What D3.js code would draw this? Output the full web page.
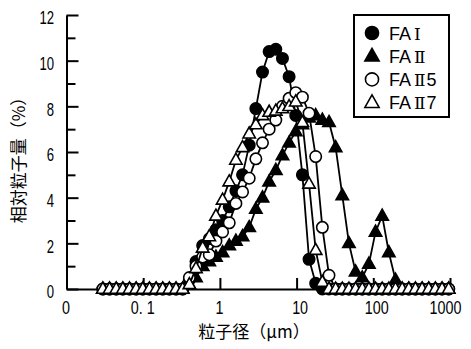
<!DOCTYPE html>
<html><head><meta charset="utf-8">
<script src="https://cdn.jsdelivr.net/npm/d3@7"></script>
<style>
body{margin:0;background:#fff;}
svg{display:block;}
</style></head><body>
<svg id="chart" width="471" height="349"></svg>
<script>
// Particle size channels (µm), log spaced
const sizes = [0.0298,0.0364,0.0445,0.0543,0.0663,0.0809,0.0988,0.1206,0.1473,0.1798,
  0.2196,0.268,0.327,0.400,0.488,0.596,0.727,0.888,1.084,1.324,
  1.617,1.974,2.410,2.943,3.593,4.386,5.356,6.539,7.984,9.748,
  11.90,14.53,17.74,21.66,26.45,32.29,39.43,48.14,58.78,71.77,
  87.62,107.0,130.6,159.5,194.7,237.8,290.3,354.4,432.8,528.4,
  645.1,787.7,961.6];

// Relative amount of particles (%) per channel
const faI = [0,0,0,0,0,0,0,0,0,0,0,0,0,
  0.4,1.2,1.9,2.2,2.6,3.0,3.6,4.3,5.0,6.3,7.9,9.5,10.4,10.5,10.1,9.3,7.6,5.0,1.3,0.25,
  0,0,0,0,0,0,0,0,0,0,0,0,0,0,0,0,0,0,0,0];
const faII = [0,0,0,0,0,0,0,0,0,0,0,0,0,
  0.2,0.5,1.0,1.2,1.4,1.6,1.9,2.1,2.3,2.7,3.5,4.0,4.7,5.2,5.85,6.4,6.9,7.2,7.5,7.6,7.4,7.3,
  6.2,4.1,2.0,0.76,0.5,1.1,2.5,3.2,1.6,0.4,
  0,0,0,0,0,0,0,0];
const faII5 = [0,0,0,0,0,0,0,0,0,0,0,0,0,
  0.5,1.0,1.4,1.5,2.1,2.5,2.9,3.75,4.25,4.85,5.7,6.4,7.0,7.4,8.0,8.35,8.6,8.4,7.7,5.8,2.7,0.6,
  0,0,0,0,0,0,0,0,0,0,0,0,0,0,0,0,0,0];
const faII7 = [0,0,0,0,0,0,0,0,0,0,0,0,0,
  0.2,0.9,1.8,2.3,3.2,3.9,4.7,5.65,6.2,6.8,7.2,7.6,7.75,7.8,7.9,8.0,8.2,7.3,4.6,1.7,0.3,
  0,0,0,0,0,0,0,0,0,0,0,0,0,0,0,0,0,0,0];

// legend names: prefix, roman numeral, suffix
const seriesPrefix = ["FA", "FA", "FA", "FA"];
const seriesNumeral = ["Ⅰ", "Ⅱ", "Ⅱ", "Ⅱ"];
const seriesSuffix = ["", "", "5", "7"];
const seriesValues = [faI, faII, faII5, faII7];
const seriesMarkers = ["circle", "triangle", "circle", "triangle"];
const seriesFilled = [true, true, false, false];

const xTicks = [0.01, 0.1, 1, 10, 100, 1000];
const xTickLabels = ["0", "0. 1", "1", "10", "100", "1000"];
const yMajor = [0, 2, 4, 6, 8, 10, 12];
const yMinor = [1, 3, 5, 7, 9, 11];

const svg = d3.select("#chart");
const x = d3.scaleLog().domain([0.01, 1000]).range([66.5, 450]);
const y = d3.scaleLinear().domain([0, 12]).range([289, 15]);

const numFont = "'Liberation Sans', Arial, sans-serif";
const jpFont = "'Noto Sans CJK JP', sans-serif";
const romanFont = "'DejaVu Serif', 'Noto Sans CJK JP', serif";

// marker shapes
function drawMarker(g, type, filled, k) {
  k = k || 1;
  if (type === "circle") {
    g.append("circle").attr("r", 5.7 * k);
  } else {
    g.append("path").attr("d", `M0,${-6.8 * k}L${6.2 * k},${4.2 * k}L${-6.2 * k},${4.2 * k}Z`);
  }
  g.selectAll("circle,path")
    .attr("fill", filled ? "#000" : "#fff")
    .attr("stroke", "#000")
    .attr("stroke-width", 1.6);
}

// axes
const yAxisMajor = d3.axisLeft(y).tickValues(yMajor).tickSize(-12).tickSizeOuter(0)
  .tickFormat(d3.format("d"));
const yAxisMinor = d3.axisLeft(y).tickValues(yMinor).tickSize(-9).tickSizeOuter(0)
  .tickFormat("");
const xAxis = d3.axisBottom(x).tickValues(xTicks).tickSize(-11).tickSizeOuter(0)
  .tickFormat((d, i) => xTickLabels[i]);

const gyMinor = svg.append("g").attr("transform", "translate(66.5,0)").call(yAxisMinor);
const gy = svg.append("g").attr("transform", "translate(66.5,0)").call(yAxisMajor);
const gx = svg.append("g").attr("transform", "translate(0,289)").call(xAxis);

svg.selectAll(".domain").attr("stroke", "#000").attr("stroke-width", 2);
svg.selectAll(".tick line").attr("stroke", "#000").attr("stroke-width", 2);
gyMinor.select(".domain").remove();

gy.selectAll(".tick text")
  .attr("font-family", numFont).attr("font-size", 17.5).attr("fill", "#000")
  .attr("x", 0).attr("dy", "0.42em")
  .attr("transform", "translate(-12.5,1.5) scale(0.75,1)");
gx.selectAll(".tick text")
  .attr("font-family", numFont).attr("font-size", 17.5).attr("fill", "#000")
  .attr("y", 0).attr("dy", 0)
  .attr("xml:space", "preserve")
  .attr("transform", (d, i) => `translate(${i === xTicks.length - 1 ? -5 : (i >= 3 ? 3 : -1)},24.5) scale(0.82,1)`);

// series: line then markers
const line = d3.line().x((d, i) => x(sizes[i])).y(d => y(d));
seriesValues.forEach((vals, s) => {
  const g = svg.append("g");
  g.append("path").datum(vals).attr("d", line)
    .attr("fill", "none").attr("stroke", "#000").attr("stroke-width", 1.8);
  const pts = g.selectAll("g.pt").data(vals).join("g").attr("class", "pt")
    .attr("transform", (d, i) => `translate(${x(sizes[i])},${y(d)})`);
  pts.each(function () { drawMarker(d3.select(this), seriesMarkers[s], seriesFilled[s]); });
});

// legend
const legend = svg.append("g");
legend.append("rect").attr("x", 354).attr("y", 15).attr("width", 95).attr("height", 102)
  .attr("fill", "#fff").attr("stroke", "#000").attr("stroke-width", 2);
seriesPrefix.forEach((pre, s) => {
  const cy = 33 + s * 23.2;
  const m = legend.append("g").attr("transform", `translate(372,${cy})`);
  drawMarker(m, seriesMarkers[s], seriesFilled[s], 1.15);
  const t = legend.append("text").attr("x", 389).attr("y", cy + 6.5)
    .attr("font-family", numFont).attr("font-size", 18).attr("fill", "#000");
  t.append("tspan").text(pre);
  t.append("tspan").attr("dx", 3).attr("font-family", romanFont).attr("font-size", 17)
    .text(seriesNumeral[s]);
  t.append("tspan").attr("dx", 1).text(seriesSuffix[s]);
});

// axis titles
svg.append("text").text("粒子径（μm）")
  .attr("x", 254).attr("y", 338).attr("text-anchor", "middle")
  .attr("font-family", jpFont).attr("font-size", 17).attr("fill", "#000");
svg.append("text").text("相対粒子量（%）")
  .attr("transform", "translate(25,156) rotate(-90)").attr("text-anchor", "middle")
  .attr("font-family", jpFont).attr("font-size", 17).attr("fill", "#000");
</script>
</body></html>
